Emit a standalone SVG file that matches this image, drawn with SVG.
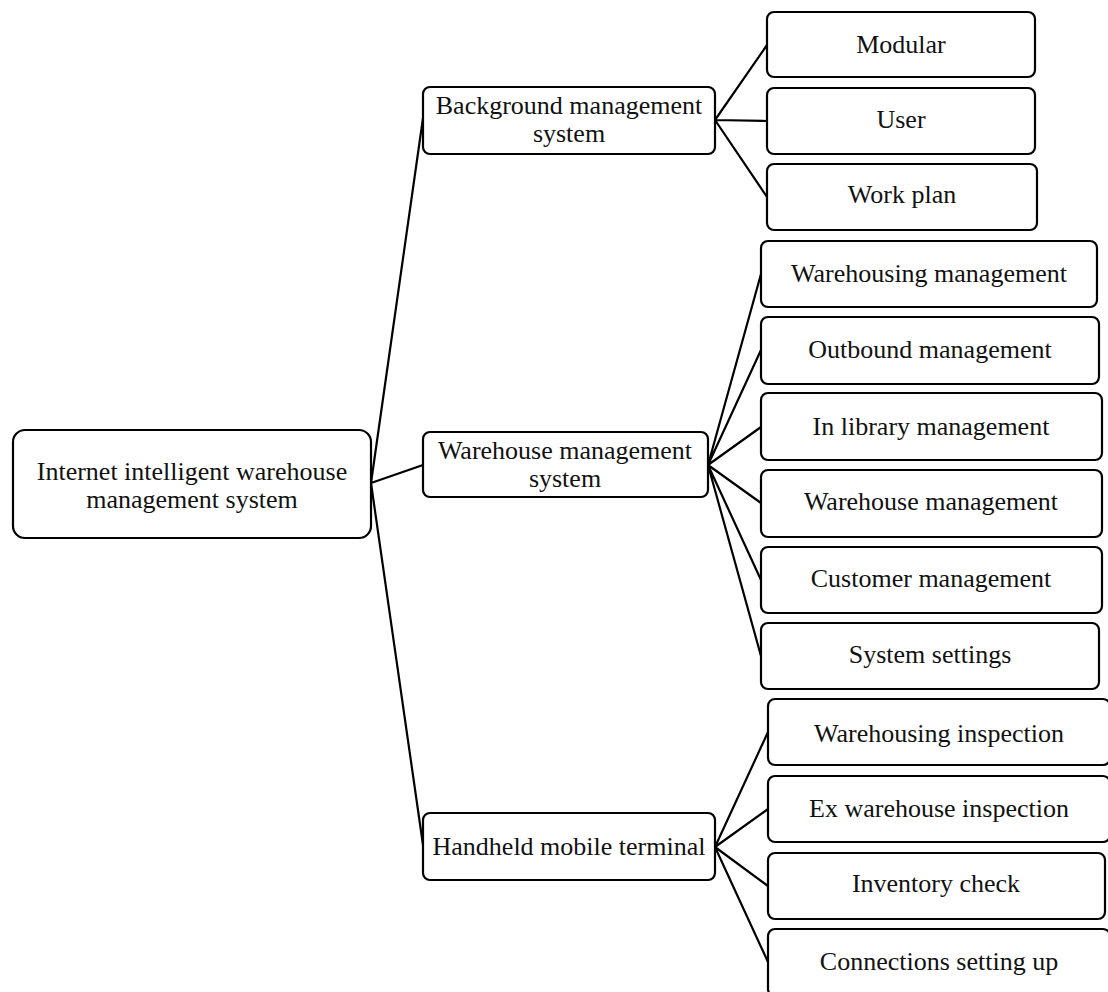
<svg xmlns="http://www.w3.org/2000/svg" width="1108" height="992" viewBox="0 0 1108 992">
<style>
.box{fill:#fff;stroke:#000;stroke-width:2.2}
.t{font-family:"Liberation Serif","Times New Roman",serif;font-size:26px;fill:#111;text-anchor:middle}
.c{stroke:#000;stroke-width:2.2;fill:none}
</style>
<rect width="1108" height="992" fill="#fff"/>
<g id="connectors">
<path class="c" d="M371 483 L423 118 M371 483 L423 465 M371 483 L423 845"/>
<path class="c" d="M715 120 L767 45 M715 120 L767 121 M715 120 L767 197"/>
<path class="c" d="M708 465 L761 274 M708 465 L761 350 M708 465 L761 427 M708 465 L761 503 M708 465 L761 580 M708 465 L761 656"/>
<path class="c" d="M715 847 L768 732 M715 847 L768 809 M715 847 L768 886 M715 847 L768 962"/>
</g>
<g id="root"><rect class="box" x="13" y="430" width="358" height="108" rx="12"/><text class="t" x="192" y="480">Internet intelligent warehouse</text><text class="t" x="192" y="508">management system</text></g>
<g id="background"><rect class="box" x="423" y="87" width="292" height="67" rx="7"/><text class="t" x="569" y="114">Background management</text><text class="t" x="569" y="142">system</text></g>
<g id="warehouse-system"><rect class="box" x="423" y="432" width="285" height="65" rx="7"/><text class="t" x="565" y="459">Warehouse management</text><text class="t" x="565" y="487">system</text></g>
<g id="handheld"><rect class="box" x="423" y="813" width="292" height="67" rx="7"/><text class="t" x="569" y="855">Handheld mobile terminal</text></g>
<g id="modular"><rect class="box" x="767" y="12" width="268" height="65" rx="7"/><text class="t" x="901" y="53">Modular</text></g>
<g id="user"><rect class="box" x="767" y="88" width="268" height="66" rx="7"/><text class="t" x="901" y="128">User</text></g>
<g id="work-plan"><rect class="box" x="767" y="164" width="270" height="66" rx="7"/><text class="t" x="902" y="203">Work plan</text></g>
<g id="warehousing-mgmt"><rect class="box" x="761" y="241" width="336" height="66" rx="7"/><text class="t" x="929" y="282">Warehousing management</text></g>
<g id="outbound"><rect class="box" x="761" y="317" width="338" height="67" rx="7"/><text class="t" x="930" y="358">Outbound management</text></g>
<g id="in-library"><rect class="box" x="761" y="393" width="341" height="67" rx="7"/><text class="t" x="931" y="435">In library management</text></g>
<g id="warehouse-mgmt"><rect class="box" x="761" y="470" width="341" height="67" rx="7"/><text class="t" x="931" y="510">Warehouse management</text></g>
<g id="customer"><rect class="box" x="761" y="547" width="341" height="66" rx="7"/><text class="t" x="931" y="587">Customer management</text></g>
<g id="system-settings"><rect class="box" x="761" y="623" width="338" height="66" rx="7"/><text class="t" x="930" y="663">System settings</text></g>
<g id="warehousing-inspection"><rect class="box" x="768" y="699" width="342" height="66" rx="7"/><text class="t" x="939" y="742">Warehousing inspection</text></g>
<g id="ex-warehouse"><rect class="box" x="768" y="776" width="342" height="66" rx="7"/><text class="t" x="939" y="817">Ex warehouse inspection</text></g>
<g id="inventory"><rect class="box" x="768" y="853" width="337" height="66" rx="7"/><text class="t" x="936" y="892">Inventory check</text></g>
<g id="connections"><rect class="box" x="768" y="929" width="342" height="67" rx="7"/><text class="t" x="939" y="970">Connections setting up</text></g>
</svg>
